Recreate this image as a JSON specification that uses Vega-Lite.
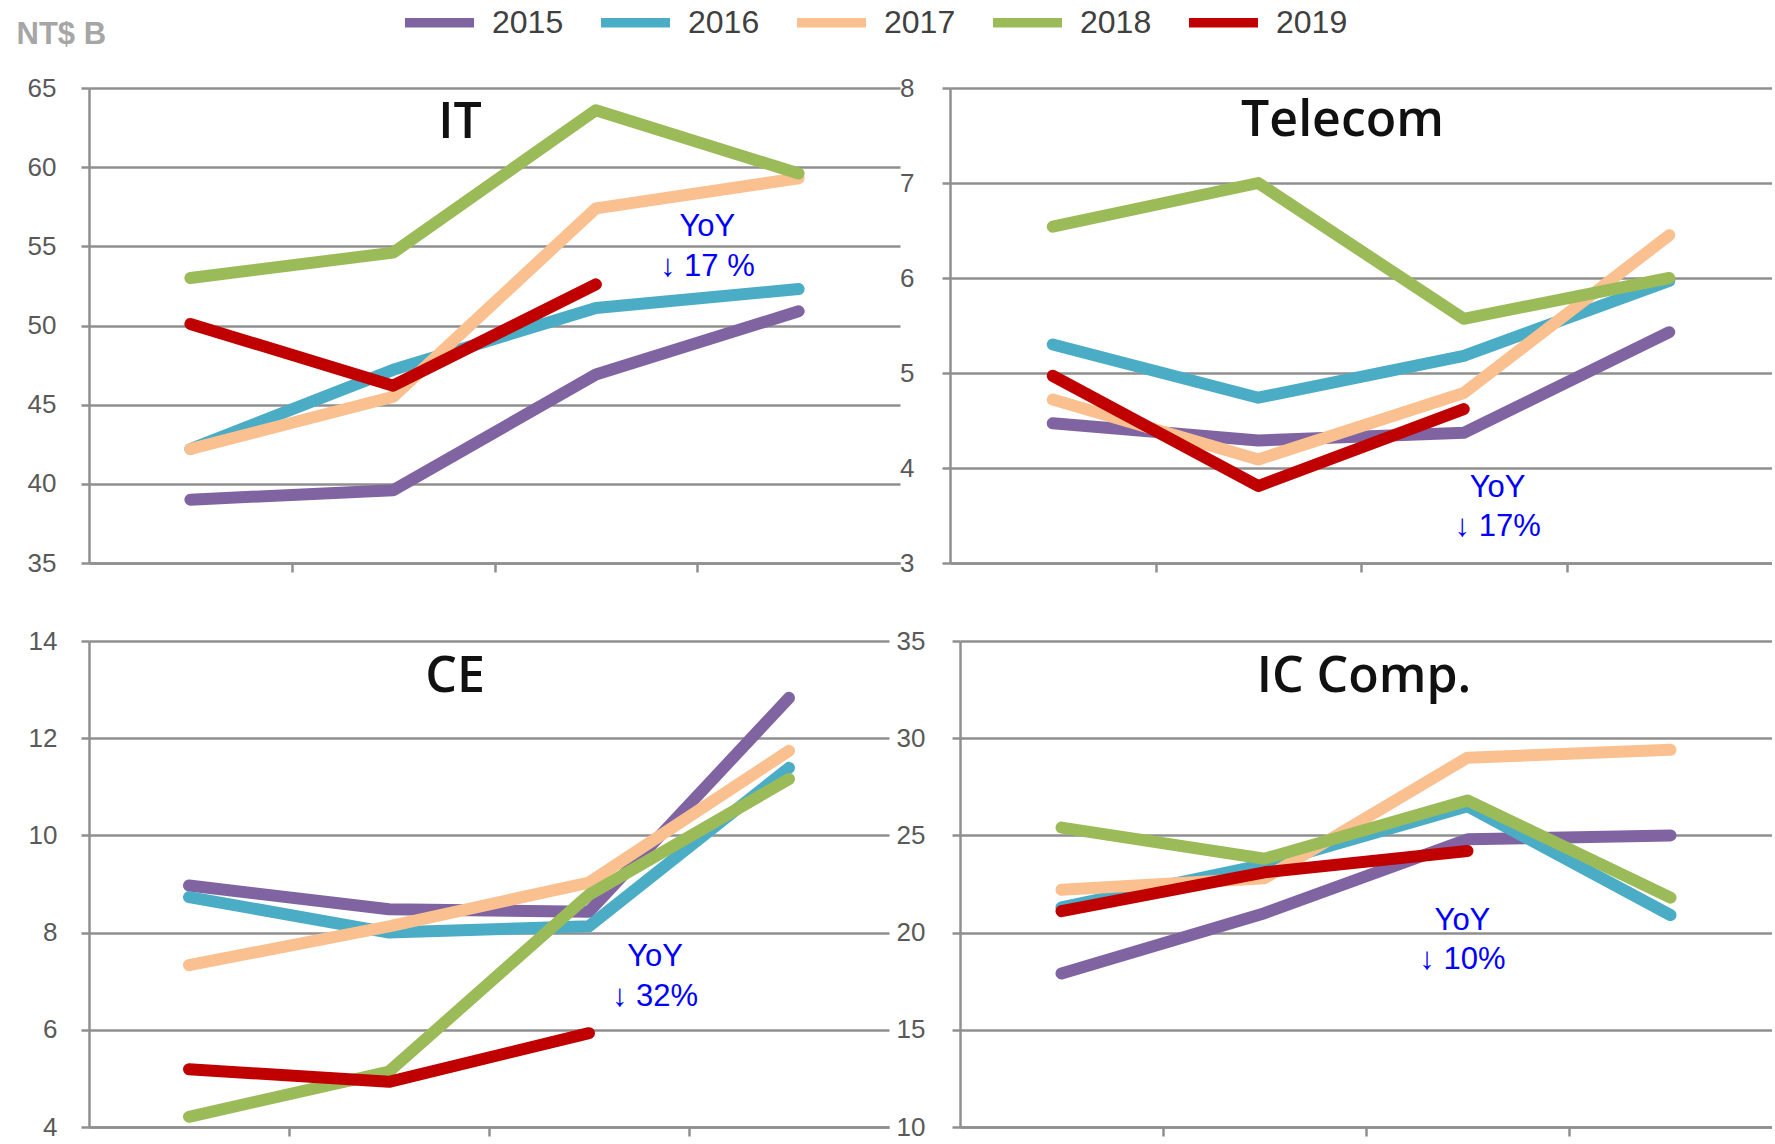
{
  "$schema": "https://vega.github.io/schema/vega-lite/v6.json",
  "padding": {"left": 16, "top": 6, "right": 0, "bottom": 0},
  "autosize": {"type": "pad"},
  "background": "#ffffff",
  "config": {
    "view": {"stroke": null},
    "axis": {
      "labelFont": "Liberation Sans",
      "labelFontSize": 26,
      "labelColor": "#595959",
      "domainColor": "#8f8f8f",
      "domainWidth": 2.5,
      "tickColor": "#8f8f8f",
      "tickWidth": 2.5,
      "gridColor": "#8f8f8f",
      "gridWidth": 2.5,
      "gridOpacity": 1
    }
  },
  "datasets": {
    "lines": [
      {"panel": "IT", "year": "2015", "q": 1, "v": 39.0},
      {"panel": "IT", "year": "2015", "q": 2, "v": 39.6},
      {"panel": "IT", "year": "2015", "q": 3, "v": 46.9},
      {"panel": "IT", "year": "2015", "q": 4, "v": 50.9},
      {"panel": "IT", "year": "2016", "q": 1, "v": 42.2},
      {"panel": "IT", "year": "2016", "q": 2, "v": 47.2},
      {"panel": "IT", "year": "2016", "q": 3, "v": 51.1},
      {"panel": "IT", "year": "2016", "q": 4, "v": 52.3},
      {"panel": "IT", "year": "2017", "q": 1, "v": 42.2},
      {"panel": "IT", "year": "2017", "q": 2, "v": 45.5},
      {"panel": "IT", "year": "2017", "q": 3, "v": 57.4},
      {"panel": "IT", "year": "2017", "q": 4, "v": 59.3},
      {"panel": "IT", "year": "2018", "q": 1, "v": 53.0},
      {"panel": "IT", "year": "2018", "q": 2, "v": 54.6},
      {"panel": "IT", "year": "2018", "q": 3, "v": 63.6},
      {"panel": "IT", "year": "2018", "q": 4, "v": 59.6},
      {"panel": "IT", "year": "2019", "q": 1, "v": 50.1},
      {"panel": "IT", "year": "2019", "q": 2, "v": 46.2},
      {"panel": "IT", "year": "2019", "q": 3, "v": 52.6},
      {"panel": "Telecom", "year": "2015", "q": 1, "v": 4.47},
      {"panel": "Telecom", "year": "2015", "q": 2, "v": 4.29},
      {"panel": "Telecom", "year": "2015", "q": 3, "v": 4.37},
      {"panel": "Telecom", "year": "2015", "q": 4, "v": 5.43},
      {"panel": "Telecom", "year": "2016", "q": 1, "v": 5.30},
      {"panel": "Telecom", "year": "2016", "q": 2, "v": 4.74},
      {"panel": "Telecom", "year": "2016", "q": 3, "v": 5.18},
      {"panel": "Telecom", "year": "2016", "q": 4, "v": 5.97},
      {"panel": "Telecom", "year": "2017", "q": 1, "v": 4.72},
      {"panel": "Telecom", "year": "2017", "q": 2, "v": 4.09},
      {"panel": "Telecom", "year": "2017", "q": 3, "v": 4.79},
      {"panel": "Telecom", "year": "2017", "q": 4, "v": 6.45},
      {"panel": "Telecom", "year": "2018", "q": 1, "v": 6.54},
      {"panel": "Telecom", "year": "2018", "q": 2, "v": 7.0},
      {"panel": "Telecom", "year": "2018", "q": 3, "v": 5.57},
      {"panel": "Telecom", "year": "2018", "q": 4, "v": 6.0},
      {"panel": "Telecom", "year": "2019", "q": 1, "v": 4.97},
      {"panel": "Telecom", "year": "2019", "q": 2, "v": 3.81},
      {"panel": "Telecom", "year": "2019", "q": 3, "v": 4.62},
      {"panel": "CE", "year": "2015", "q": 1, "v": 8.97},
      {"panel": "CE", "year": "2015", "q": 2, "v": 8.48},
      {"panel": "CE", "year": "2015", "q": 3, "v": 8.43},
      {"panel": "CE", "year": "2015", "q": 4, "v": 12.83},
      {"panel": "CE", "year": "2016", "q": 1, "v": 8.73},
      {"panel": "CE", "year": "2016", "q": 2, "v": 8.0},
      {"panel": "CE", "year": "2016", "q": 3, "v": 8.13},
      {"panel": "CE", "year": "2016", "q": 4, "v": 11.39},
      {"panel": "CE", "year": "2017", "q": 1, "v": 7.33},
      {"panel": "CE", "year": "2017", "q": 2, "v": 8.13},
      {"panel": "CE", "year": "2017", "q": 3, "v": 9.03},
      {"panel": "CE", "year": "2017", "q": 4, "v": 11.74},
      {"panel": "CE", "year": "2018", "q": 1, "v": 4.21},
      {"panel": "CE", "year": "2018", "q": 2, "v": 5.14},
      {"panel": "CE", "year": "2018", "q": 3, "v": 8.78},
      {"panel": "CE", "year": "2018", "q": 4, "v": 11.16},
      {"panel": "CE", "year": "2019", "q": 1, "v": 5.19},
      {"panel": "CE", "year": "2019", "q": 2, "v": 4.93},
      {"panel": "CE", "year": "2019", "q": 3, "v": 5.93},
      {"panel": "IC Comp.", "year": "2015", "q": 1, "v": 17.9},
      {"panel": "IC Comp.", "year": "2015", "q": 2, "v": 21.0},
      {"panel": "IC Comp.", "year": "2015", "q": 3, "v": 24.8},
      {"panel": "IC Comp.", "year": "2015", "q": 4, "v": 25.0},
      {"panel": "IC Comp.", "year": "2016", "q": 1, "v": 21.3},
      {"panel": "IC Comp.", "year": "2016", "q": 2, "v": 23.5},
      {"panel": "IC Comp.", "year": "2016", "q": 3, "v": 26.5},
      {"panel": "IC Comp.", "year": "2016", "q": 4, "v": 20.9},
      {"panel": "IC Comp.", "year": "2017", "q": 1, "v": 22.2},
      {"panel": "IC Comp.", "year": "2017", "q": 2, "v": 22.8},
      {"panel": "IC Comp.", "year": "2017", "q": 3, "v": 29.0},
      {"panel": "IC Comp.", "year": "2017", "q": 4, "v": 29.4},
      {"panel": "IC Comp.", "year": "2018", "q": 1, "v": 25.4},
      {"panel": "IC Comp.", "year": "2018", "q": 2, "v": 23.8},
      {"panel": "IC Comp.", "year": "2018", "q": 3, "v": 26.8},
      {"panel": "IC Comp.", "year": "2018", "q": 4, "v": 21.8},
      {"panel": "IC Comp.", "year": "2019", "q": 1, "v": 21.1},
      {"panel": "IC Comp.", "year": "2019", "q": 2, "v": 23.1},
      {"panel": "IC Comp.", "year": "2019", "q": 3, "v": 24.2}
    ],
    "notes": [
      {"panel": "IT", "q": 3.55, "v": 56.2, "label": "YoY"},
      {"panel": "IT", "q": 3.55, "v": 53.7, "label": "↓ 17 %"},
      {"panel": "Telecom", "q": 3.165, "v": 3.79, "label": "YoY"},
      {"panel": "Telecom", "q": 3.165, "v": 3.38, "label": "↓ 17%"},
      {"panel": "CE", "q": 3.33, "v": 7.5, "label": "YoY"},
      {"panel": "CE", "q": 3.33, "v": 6.68, "label": "↓ 32%"},
      {"panel": "IC Comp.", "q": 2.975, "v": 20.61, "label": "YoY"},
      {"panel": "IC Comp.", "q": 2.975, "v": 18.58, "label": "↓ 10%"}
    ],
    "titles": [
      {"panel": "IT", "q": 2.33, "v": 61.84, "label": "IT"},
      {"panel": "Telecom", "q": 2.41, "v": 7.49, "label": "Telecom"},
      {"panel": "CE", "q": 2.33, "v": 12.95, "label": "CE"},
      {"panel": "IC Comp.", "q": 2.49, "v": 32.39, "label": "IC Comp."}
    ]
  },
  "spacing": 52,
  "resolve": {"scale": {"x": "independent", "y": "independent", "color": "shared"}},
  "vconcat": [
    {
      "bounds": "flush",
      "spacing": 50,
      "resolve": {"scale": {"x": "independent", "y": "independent", "color": "shared"}},
      "hconcat": [
        {
          "width": 811, "height": 475,
          "layer": [
            {
              "data": {"name": "lines"},
              "transform": [{"filter": "datum.panel === 'IT'"}],
              "mark": {"type": "line", "strokeWidth": 12, "strokeCap": "round", "strokeJoin": "round"},
              "encoding": {
                "x": {"field": "q", "type": "quantitative", "scale": {"domain": [0.5, 4.5], "nice": false, "zero": false},
                      "axis": {"values": [1.5, 2.5, 3.5], "labels": false, "grid": false, "tickSize": 9, "title": null}},
                "y": {"field": "v", "type": "quantitative", "scale": {"domain": [35, 65], "nice": false, "zero": false},
                      "axis": {"values": [35, 40, 45, 50, 55, 60, 65], "format": "d", "grid": true, "tickSize": 8, "labelPadding": 25,
                               "title": "NT$ B", "titleAngle": 0, "titleX": -73, "titleY": -54, "titleAlign": "left",
                               "titleBaseline": "middle", "titleFont": "Liberation Sans", "titleFontSize": 31,
                               "titleFontWeight": "bold", "titleColor": "#a6a6a6"}},
                "color": {"field": "year", "type": "nominal",
                          "scale": {"domain": ["2015", "2016", "2017", "2018", "2019"],
                                    "range": ["#8064a2", "#4bacc6", "#fac090", "#9bbb59", "#c00000"]},
                          "legend": {"orient": "none", "legendX": 334, "legendY": -82, "direction": "horizontal",
                                     "title": null, "symbolType": "M-3,0H3", "symbolSize": 529, "symbolStrokeWidth": 9.5,
                                     "labelFont": "Liberation Sans", "labelFontSize": 32, "labelColor": "#404040",
                                     "labelOffset": 36, "columnPadding": 18}}
              }
            },
            {
              "data": {"name": "notes"},
              "transform": [{"filter": "datum.panel === 'IT'"}],
              "mark": {"type": "text", "color": "#0000ff", "font": "Liberation Sans", "fontSize": 31, "align": "center", "baseline": "middle"},
              "encoding": {
                "x": {"field": "q", "type": "quantitative"},
                "y": {"field": "v", "type": "quantitative"},
                "text": {"field": "label"}
              }
            },
            {
              "data": {"name": "titles"},
              "transform": [{"filter": "datum.panel === 'IT'"}],
              "mark": {"type": "text", "color": "#111111", "font": "Open Sans", "fontWeight": 600, "fontSize": 50, "align": "center", "baseline": "alphabetic"},
              "encoding": {
                "x": {"field": "q", "type": "quantitative"},
                "y": {"field": "v", "type": "quantitative"},
                "text": {"field": "label"}
              }
            }
          ]
        },
        {
          "width": 822, "height": 475,
          "layer": [
            {
              "data": {"name": "lines"},
              "transform": [{"filter": "datum.panel === 'Telecom'"}],
              "mark": {"type": "line", "strokeWidth": 12, "strokeCap": "round", "strokeJoin": "round"},
              "encoding": {
                "x": {"field": "q", "type": "quantitative", "scale": {"domain": [0.5, 4.5], "nice": false, "zero": false},
                      "axis": {"values": [1.5, 2.5, 3.5], "labels": false, "grid": false, "tickSize": 9, "title": null}},
                "y": {"field": "v", "type": "quantitative", "scale": {"domain": [3, 8], "nice": false, "zero": false},
                      "axis": {"values": [3, 4, 5, 6, 7, 8], "format": "d", "grid": true, "tickSize": 8, "labelPadding": 28, "title": null}},
                "color": {"field": "year", "type": "nominal"}
              }
            },
            {
              "data": {"name": "notes"},
              "transform": [{"filter": "datum.panel === 'Telecom'"}],
              "mark": {"type": "text", "color": "#0000ff", "font": "Liberation Sans", "fontSize": 31, "align": "center", "baseline": "middle"},
              "encoding": {
                "x": {"field": "q", "type": "quantitative"},
                "y": {"field": "v", "type": "quantitative"},
                "text": {"field": "label"}
              }
            },
            {
              "data": {"name": "titles"},
              "transform": [{"filter": "datum.panel === 'Telecom'"}],
              "mark": {"type": "text", "color": "#111111", "font": "Open Sans", "fontWeight": 600, "fontSize": 50, "align": "center", "baseline": "alphabetic"},
              "encoding": {
                "x": {"field": "q", "type": "quantitative"},
                "y": {"field": "v", "type": "quantitative"},
                "text": {"field": "label"}
              }
            }
          ]
        }
      ]
    },
    {
      "bounds": "flush",
      "spacing": 71,
      "resolve": {"scale": {"x": "independent", "y": "independent", "color": "shared"}},
      "hconcat": [
        {
          "width": 800, "height": 486,
          "layer": [
            {
              "data": {"name": "lines"},
              "transform": [{"filter": "datum.panel === 'CE'"}],
              "mark": {"type": "line", "strokeWidth": 12, "strokeCap": "round", "strokeJoin": "round"},
              "encoding": {
                "x": {"field": "q", "type": "quantitative", "scale": {"domain": [0.5, 4.5], "nice": false, "zero": false},
                      "axis": {"values": [1.5, 2.5, 3.5], "labels": false, "grid": false, "tickSize": 9, "title": null}},
                "y": {"field": "v", "type": "quantitative", "scale": {"domain": [4, 14], "nice": false, "zero": false},
                      "axis": {"values": [4, 6, 8, 10, 12, 14], "format": "d", "grid": true, "tickSize": 8, "labelPadding": 24, "title": null}},
                "color": {"field": "year", "type": "nominal"}
              }
            },
            {
              "data": {"name": "notes"},
              "transform": [{"filter": "datum.panel === 'CE'"}],
              "mark": {"type": "text", "color": "#0000ff", "font": "Liberation Sans", "fontSize": 31, "align": "center", "baseline": "middle"},
              "encoding": {
                "x": {"field": "q", "type": "quantitative"},
                "y": {"field": "v", "type": "quantitative"},
                "text": {"field": "label"}
              }
            },
            {
              "data": {"name": "titles"},
              "transform": [{"filter": "datum.panel === 'CE'"}],
              "mark": {"type": "text", "color": "#111111", "font": "Open Sans", "fontWeight": 600, "fontSize": 50, "align": "center", "baseline": "alphabetic"},
              "encoding": {
                "x": {"field": "q", "type": "quantitative"},
                "y": {"field": "v", "type": "quantitative"},
                "text": {"field": "label"}
              }
            }
          ]
        },
        {
          "width": 812, "height": 486,
          "layer": [
            {
              "data": {"name": "lines"},
              "transform": [{"filter": "datum.panel === 'IC Comp.'"}],
              "mark": {"type": "line", "strokeWidth": 12, "strokeCap": "round", "strokeJoin": "round"},
              "encoding": {
                "x": {"field": "q", "type": "quantitative", "scale": {"domain": [0.5, 4.5], "nice": false, "zero": false},
                      "axis": {"values": [1.5, 2.5, 3.5], "labels": false, "grid": false, "tickSize": 9, "title": null}},
                "y": {"field": "v", "type": "quantitative", "scale": {"domain": [10, 35], "nice": false, "zero": false},
                      "axis": {"values": [10, 15, 20, 25, 30, 35], "format": "d", "grid": true, "tickSize": 8, "labelPadding": 27, "title": null}},
                "color": {"field": "year", "type": "nominal"}
              }
            },
            {
              "data": {"name": "notes"},
              "transform": [{"filter": "datum.panel === 'IC Comp.'"}],
              "mark": {"type": "text", "color": "#0000ff", "font": "Liberation Sans", "fontSize": 31, "align": "center", "baseline": "middle"},
              "encoding": {
                "x": {"field": "q", "type": "quantitative"},
                "y": {"field": "v", "type": "quantitative"},
                "text": {"field": "label"}
              }
            },
            {
              "data": {"name": "titles"},
              "transform": [{"filter": "datum.panel === 'IC Comp.'"}],
              "mark": {"type": "text", "color": "#111111", "font": "Open Sans", "fontWeight": 600, "fontSize": 50, "align": "center", "baseline": "alphabetic"},
              "encoding": {
                "x": {"field": "q", "type": "quantitative"},
                "y": {"field": "v", "type": "quantitative"},
                "text": {"field": "label"}
              }
            }
          ]
        }
      ]
    }
  ]
}
